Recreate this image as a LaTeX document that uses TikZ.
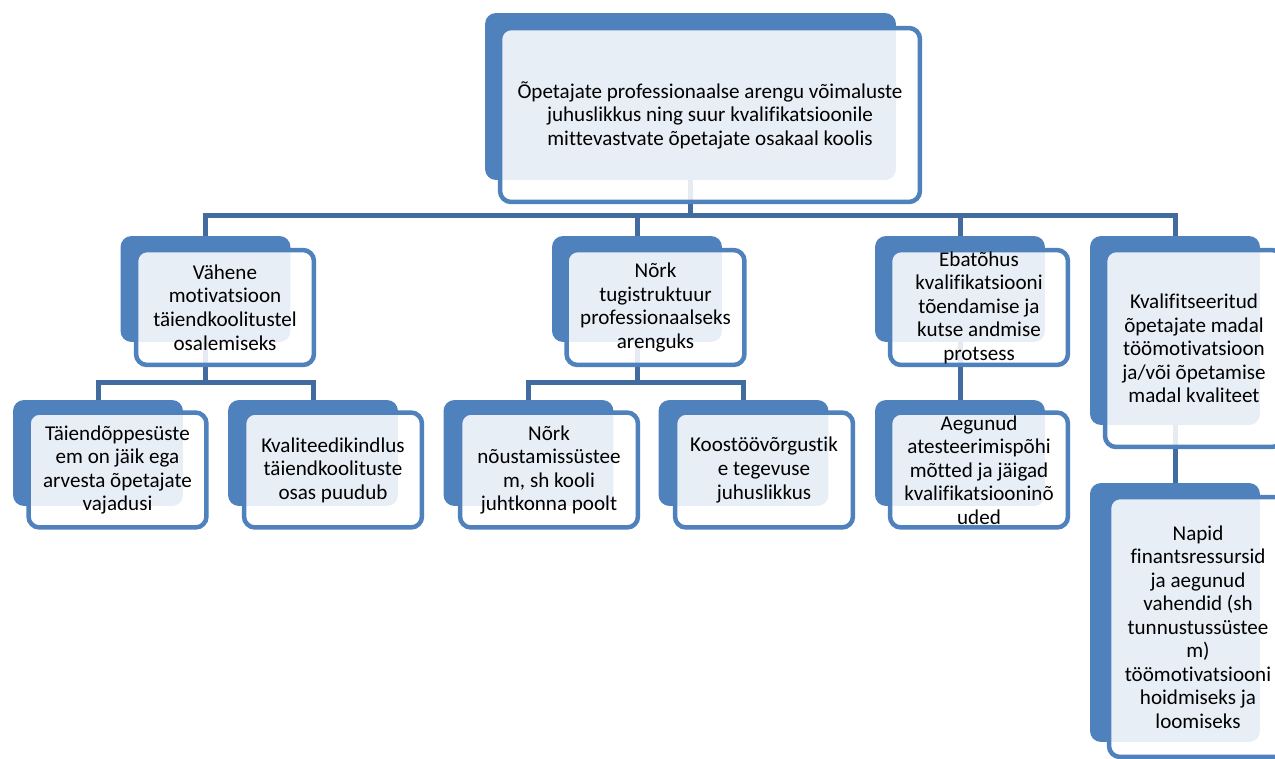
\documentclass[tikz,border=0pt]{standalone}
\usepackage{fontspec}
\setmainfont{Carlito}[Ligatures=NoCommon]
\usetikzlibrary{positioning, backgrounds}
\definecolor{tume}{RGB}{79,129,189}
\definecolor{joon}{RGB}{66,108,160}
\tikzset{taga/.style={fill=tume, rounded corners=0.22cm, minimum width=3.4cm, minimum height=2.12cm}}
\tikzset{ees/.style={draw=tume, line width=0.09cm, fill=white, fill opacity=0.87, text opacity=1, rounded corners=0.22cm, minimum width=3.56cm, minimum height=2.3cm, align=center, font=\fontsize{12}{13.4}\selectfont}}
\tikzset{haru/.style={draw=joon, line width=0.1cm}}

\begin{document}
\begin{tikzpicture}[
                x = 0.02cm, y = -0.02cm,
                every node/.style={inner sep=0pt}
            ]
                \useasboundingbox (0,0) rectangle (1275,758);

                % tase 1
                \node[taga, minimum width=8.22cm, minimum height=3.34cm] (peal-taga) at (690.5,96.5) {};
                \node[ees, minimum width=8.4cm, minimum height=3.48cm] (peal) at (710,115) {Õpetajate professionaalse arengu võimaluste\\juhuslikkus ning suur kvalifikatsioonile\\mittevastvate õpetajate osakaal koolis};

                % tase 2
                \node[taga] (A-taga) at (205.5,289) {};
                \node[ees] (A) at (225,307.5) {Vähene\\motivatsioon\\täiendkoolitustel\\osalemiseks};
                \node[taga] (B-taga) at (637,289) {};
                \node[ees] (B) at (655.5,307.5) {Nõrk\\tugistruktuur\\professionaalseks\\arenguks};
                \node[taga] (C-taga) at (960,289) {};
                \node[ees] (C) at (979,307.5) {Ebatõhus\\kvalifikatsiooni\\tõendamise ja\\kutse andmise\\protsess};
                \node[taga, minimum height=3.78cm] (D-taga) at (1175,330.5) {};
                \node[ees, minimum height=3.94cm] (D) at (1194,348.5) {Kvalifitseeritud\\õpetajate madal\\töömotivatsioon\\ja/või õpetamise\\madal kvaliteet};

                % tase 3
                \node[taga] (A1-taga) at (98,453) {};
                \node[ees] (A1) at (117.5,470) {Täiendõppesüste\\em on jäik ega\\arvesta õpetajate\\vajadusi};
                \node[taga] (A2-taga) at (313,453) {};
                \node[ees] (A2) at (333,470) {Kvaliteedikindlus\\täiendkoolituste\\osas puudub};
                \node[taga] (B1-taga) at (528.5,453) {};
                \node[ees] (B1) at (549,470) {Nõrk\\nõustamissüstee\\m, sh kooli\\juhtkonna poolt};
                \node[taga] (B2-taga) at (743.5,453) {};
                \node[ees] (B2) at (764,470) {Koostöövõrgustik\\e tegevuse\\juhuslikkus};
                \node[taga] (C1-taga) at (960,453) {};
                \node[ees] (C1) at (979,470) {Aegunud\\atesteerimispõhi\\mõtted ja jäigad\\kvalifikatsiooninõ\\uded};
                \node[taga, minimum height=5.18cm] (D1-taga) at (1175,612.5) {};
                \node[ees, minimum height=5.2cm] (D1) at (1198,627) {Napid\\finantsressursid\\ja aegunud\\vahendid (sh\\tunnustussüstee\\m)\\töömotivatsiooni\\hoidmiseks ja\\loomiseks};

                \coordinate (jaga) at (690.5,215);
                \begin{scope}[on background layer]
                    \draw[haru] (peal-taga) -- (jaga);
                    \foreach \k in {A,B,C,D}
                        \draw[haru] (jaga) -| (\k-taga.north);
                    \foreach \k in {A1,A2}
                        \draw[haru] (A-taga.south) -- ++(0,40) -| (\k-taga.north);
                    \foreach \k in {B1,B2}
                        \draw[haru] (B-taga.south) -- ++(0,40) -| (\k-taga.north);
                    \draw[haru] (C-taga) -- (C1-taga);
                    \draw[haru] (D-taga) -- (D1-taga);
                \end{scope}
            \end{tikzpicture}
\end{document}
